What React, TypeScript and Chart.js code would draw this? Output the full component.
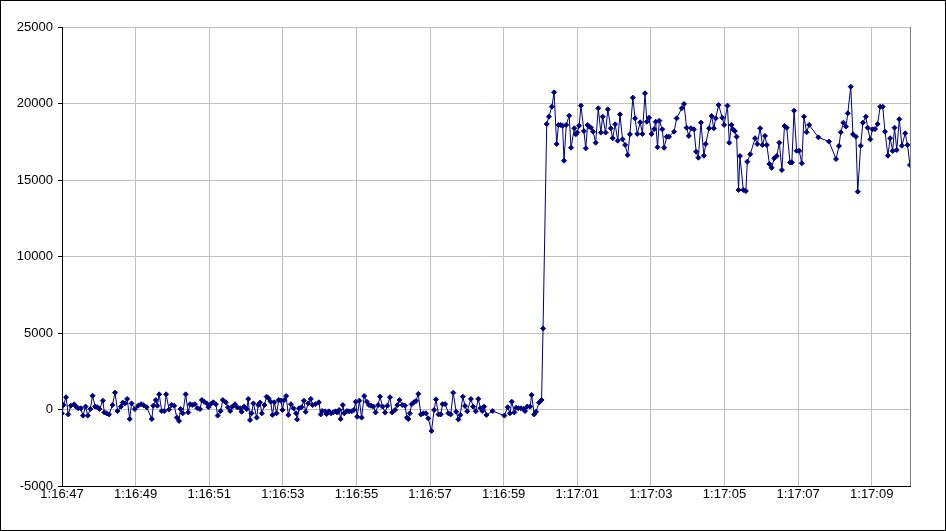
import React, { useEffect, useRef } from "react";
import { Chart, registerables } from "chart.js";
Chart.register(...registerables);

// seconds after 1:16:47
const times = [
  0.00, 0.04, 0.11, 0.17, 0.24, 0.33, 0.38, 0.44, 0.51, 0.57, 0.64, 0.70, 0.77, 0.83, 0.90, 0.96,
  1.02, 1.11, 1.15, 1.21, 1.28, 1.37, 1.44, 1.51, 1.60, 1.65, 1.71, 1.77, 1.84, 1.89, 1.98, 2.07,
  2.15, 2.21, 2.30, 2.44, 2.48, 2.55, 2.59, 2.64, 2.71, 2.78, 2.83, 2.91, 2.98, 3.05, 3.12, 3.18,
  3.22, 3.28, 3.36, 3.43, 3.48, 3.54, 3.61, 3.68, 3.75, 3.80, 3.86, 3.93, 3.98, 4.04, 4.11, 4.18,
  4.23, 4.31, 4.37, 4.45, 4.51, 4.57, 4.63, 4.70, 4.76, 4.84, 4.88, 4.95, 5.02, 5.06, 5.11, 5.15,
  5.20, 5.29, 5.33, 5.38, 5.43, 5.50, 5.56, 5.61, 5.67, 5.72, 5.77, 5.83, 5.89, 5.95, 5.99, 6.04,
  6.09, 6.15, 6.22, 6.29, 6.36, 6.39, 6.44, 6.51, 6.57, 6.62, 6.69, 6.76, 6.81, 6.89, 6.98, 7.03,
  7.07, 7.15, 7.19, 7.25, 7.31, 7.37, 7.43, 7.48, 7.53, 7.57, 7.63, 7.67, 7.74, 7.80, 7.87, 7.93,
  7.98, 8.02, 8.08, 8.14, 8.21, 8.28, 8.34, 8.40, 8.46, 8.52, 8.59, 8.64, 8.71, 8.78, 8.84, 8.91,
  8.97, 9.05, 9.11, 9.17, 9.25, 9.32, 9.37, 9.41, 9.45, 9.50, 9.56, 9.62, 9.68, 9.75, 9.82, 9.89,
  9.95, 10.04, 10.11, 10.16, 10.23, 10.29, 10.34, 10.41, 10.50, 10.56, 10.63, 10.71, 10.77, 10.82, 10.89, 10.95,
  11.01, 11.11, 11.17, 11.24, 11.31, 11.37, 11.42, 11.47, 11.53, 11.70, 12.02, 12.11, 12.17, 12.22, 12.29, 12.34,
  12.40, 12.47, 12.54, 12.58, 12.64, 12.72, 12.76, 12.83, 12.88, 12.96, 13.03, 13.07, 13.17, 13.23, 13.31, 13.37,
  13.44, 13.49, 13.55, 13.60, 13.64, 13.70, 13.78, 13.83, 13.92, 13.96, 14.00, 14.05, 14.10, 14.18, 14.23, 14.28,
  14.32, 14.37, 14.43, 14.50, 14.57, 14.64, 14.69, 14.77, 14.83, 14.91, 14.96, 15.03, 15.10, 15.16, 15.23, 15.30,
  15.37, 15.43, 15.51, 15.57, 15.63, 15.71, 15.77, 15.84, 15.89, 15.95, 16.02, 16.09, 16.13, 16.18, 16.23, 16.31,
  16.36, 16.43, 16.49, 16.63, 16.70, 16.84, 16.90, 16.97, 17.03, 17.09, 17.17, 17.23, 17.29, 17.36, 17.44, 17.49,
  17.58, 17.65, 17.71, 17.76, 17.84, 17.94, 17.99, 18.08, 18.13, 18.19, 18.23, 18.28, 18.33, 18.38, 18.42, 18.51,
  18.58, 18.62, 18.70, 18.83, 18.89, 18.97, 19.03, 19.10, 19.15, 19.22, 19.28, 19.35, 19.42, 19.49, 19.56, 19.63,
  19.69, 19.78, 19.83, 19.89, 19.96, 20.03, 20.10, 20.16, 20.23, 20.30, 20.55, 20.84, 21.03, 21.11, 21.16, 21.23,
  21.30, 21.35, 21.43, 21.49, 21.57, 21.62, 21.70, 21.76, 21.84, 21.89, 21.96, 22.02, 22.09, 22.16, 22.23, 22.30,
  22.36, 22.44, 22.50, 22.57, 22.62, 22.68, 22.75, 22.82, 22.91, 22.97, 23.04,
];

const values = [
  -250, 290, 800, -320, 250, 340, 190, 80, 80, -400, 190, -400, 30, 900, 190, 150,
  30, 580, -190, -250, -320, 290, 1100, -100, 190, 450, 400, 690, -620, 400, 30, 250,
  350, 290, 150, -620, 250, 620, 250, 990, -100, -100, 990, 0, 290, 250, -530, -750,
  30, -250, 990, -190, 350, 290, 350, 80, 30, 620, 510, 400, 150, 350, 470, 350,
  -400, -100, 620, 470, 150, -100, 190, 340, 150, 80, -150, 190, 30, 690, -690, -250,
  400, -530, 290, 450, -250, 290, 840, 730, 510, -360, 470, -250, 620, 580, -30, 620,
  880, -360, 350, 80, -250, -650, 80, 150, 580, -150, 400, 690, 290, 350, 470, -320,
  -100, -120, -300, -120, -250, -190, -120, -200, -30, -620, 290, -250, -100, -120, -120, -30,
  510, -470, 580, -530, 880, 510, 290, 250, 190, -190, 290, 840, 190, -200, 250, 800,
  -190, -30, 290, 620, 290, 250, -530, -620, -250, 340, 470, 560, 1020, -320, -250, -250,
  -580, -1400, -30, 660, -320, -320, 350, 350, -250, -320, 1100, -150, -650, -360, 840, 230,
  -120, 690, 190, -120, 690, 80, -100, 190, -360, -100, -400, 150, -250, 510, -190, 120,
  80, 80, 30, -100, 190, 190, 950, -320, -150, 450, 620, 5300, 18660, 19140, 19790, 20730,
  17350, 18600, 18600, 18550, 16260, 18600, 19200, 17110, 18380, 17990, 18100, 18550, 19860, 18200, 17070, 18600,
  18490, 18420, 18160, 17440, 19690, 18100, 19140, 18100, 19620, 18380, 17730, 18640, 17570, 19290, 17660, 17290,
  16630, 17990, 20380, 19030, 18010, 18770, 18010, 20670, 18810, 19070, 18010, 18330, 18810, 17140, 18880, 18310,
  17110, 17830, 17830, 18160, 19030, 19690, 19970, 18420, 17880, 18380, 18310, 16850, 16460, 18750, 16590, 17350,
  18380, 19180, 18380, 19030, 19900, 19070, 18600, 19860, 17440, 18600, 18310, 18200, 17830, 14350, 16570, 14350,
  14280, 16200, 16680, 17730, 17350, 18380, 17290, 17880, 17290, 16050, 15800, 16420, 16570, 17440, 15650, 18530,
  18420, 16150, 16150, 19530, 16910, 16910, 16090, 19140, 18120, 18600, 17790, 17510, 16370, 17220, 18120, 18750,
  18490, 19360, 21100, 17990, 17830, 14240, 17240, 18750, 19140, 18420, 17660, 18310, 18330, 18660, 19790, 19790,
  18160, 16590, 17730, 16900, 18420, 16960, 18970, 17240, 18050, 17290, 15980,
];

const tickSeconds = [0, 2, 4, 6, 8, 10, 12, 14, 16, 18, 20, 22];
const tickLabels = [
  "1:16:47", "1:16:49", "1:16:51", "1:16:53", "1:16:55", "1:16:57",
  "1:16:59", "1:17:01", "1:17:03", "1:17:05", "1:17:07", "1:17:09",
];
const yTicks = [-5000, 0, 5000, 10000, 15000, 20000, 25000];

export default function App() {
  const ref = useRef<HTMLCanvasElement>(null);
  useEffect(() => {
    const canvas = ref.current;
    if (!canvas) return;
    const points = times.map((t, i) => ({ x: t, y: values[i] }));
    const frame = {
      id: "frame",
      beforeDraw(chart: any) {
        const c = chart.ctx;
        c.save();
        c.fillStyle = "#ffffff";
        c.fillRect(0, 0, chart.width, chart.height);
        c.restore();
      },
      beforeDatasetsDraw(chart: any) {
        const c = chart.ctx;
        const a = chart.chartArea;
        c.save();
        c.strokeStyle = "#808080";
        c.lineWidth = 1;
        c.beginPath();
        c.moveTo(Math.round(a.right) + 0.5, a.top);
        c.lineTo(Math.round(a.right) + 0.5, a.bottom);
        c.stroke();
        c.restore();
      },
      afterDraw(chart: any) {
        const c = chart.ctx;
        c.save();
        c.strokeStyle = "#000000";
        c.lineWidth = 1;
        c.strokeRect(0.5, 0.5, chart.width - 1, chart.height - 1);
        c.restore();
      },
    };
    const font = { family: '"Liberation Sans", Arial, sans-serif', size: 13 };
    const chart = new Chart(canvas, {
      type: "line",
      data: {
        datasets: [
          {
            data: points,
            borderColor: "#000080",
            backgroundColor: "#000080",
            borderWidth: 1,
            pointStyle: "rectRot",
            pointRadius: 2.5,
            pointBorderWidth: 1,
            pointHoverRadius: 2.5,
            tension: 0,
            fill: false,
          },
        ],
      },
      options: {
        responsive: false,
        animation: false,
        events: [],
        plugins: { legend: { display: false }, tooltip: { enabled: false } },
        layout: { padding: { left: 0, top: 27, right: 36, bottom: 0 } },
        scales: {
          x: {
            type: "linear",
            min: 0,
            max: 23.04,
            afterBuildTicks: (s: any) => {
              s.ticks = tickSeconds.map((v) => ({ value: v }));
            },
            afterFit: (s: any) => {
              s.height = 45;
            },
            ticks: {
              callback: (_v: any, i: number) => tickLabels[i],
              color: "#000000",
              font,
              padding: 1,
              maxRotation: 0,
              autoSkip: false,
            },
            grid: { color: "#c0c0c0", drawTicks: false },
            border: { color: "#000000" },
          },
          y: {
            type: "linear",
            min: -5000,
            max: 25000,
            afterBuildTicks: (s: any) => {
              s.ticks = yTicks.map((v) => ({ value: v }));
            },
            afterFit: (s: any) => {
              s.width = 62;
            },
            ticks: {
              callback: (v: any) => String(v),
              color: "#000000",
              font,
              padding: 5,
            },
            grid: { color: "#c0c0c0", tickLength: 4, tickColor: "#000000" },
            border: { color: "#000000" },
          },
        },
      },
      plugins: [frame],
    });
    return () => chart.destroy();
  }, []);
  return (
    <div style={{ position: "fixed", left: 0, top: 0, width: 946, height: 531 }}>
      <canvas ref={ref} width={946} height={531} style={{ display: "block", width: 946, height: 531 }} />
    </div>
  );
}
